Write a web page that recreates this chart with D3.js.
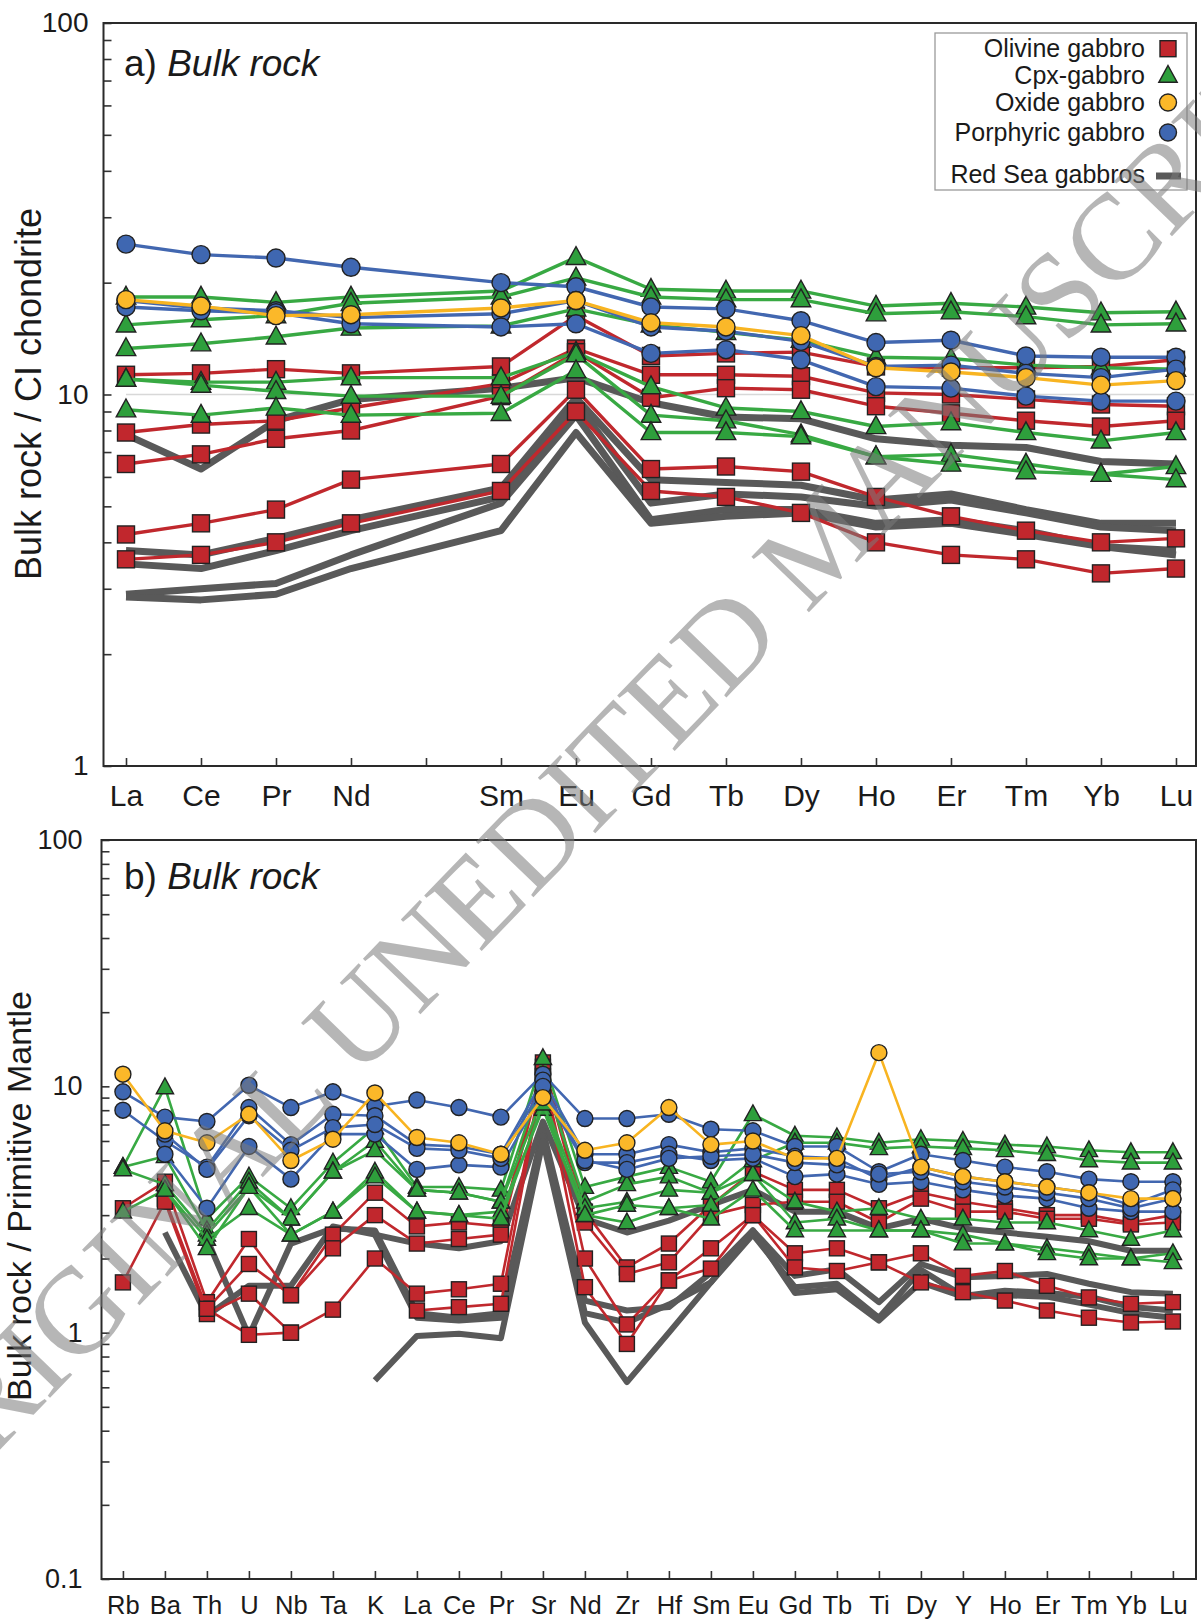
<!DOCTYPE html>
<html>
<head>
<meta charset="utf-8">
<script src="https://cdn.jsdelivr.net/npm/d3@7"></script>
<style>
  body { margin: 0; background: #fff; }
  svg { display: block; }
</style>
</head>
<body>
<svg id="chart" width="1201" height="1624"></svg>
<script>
// ================= DATA =================
// Panel a: REE, chondrite normalised (Pm gap kept as empty tick)
const reeTickLabels = ["La","Ce","Pr","Nd","","Sm","Eu","Gd","Tb","Dy","Ho","Er","Tm","Yb","Lu"];
const reeElements   = ["La","Ce","Pr","Nd","Sm","Eu","Gd","Tb","Dy","Ho","Er","Tm","Yb","Lu"];

const reeOlivine = [
  [11.3, 11.4, 11.7, 11.4, 11.9, 16.3, 12.7, 12.9, 13.0, 11.9, 11.8, 11.8, 11.9, 12.4],
  [7.9, 8.3, 8.5, 9.2, 10.7, 13.3, 11.3, 11.3, 11.2, 10.1, 10.0, 9.7, 9.4, 9.3],
  [6.5, 6.9, 7.6, 8.0, 9.9, 13.0, 9.8, 10.4, 10.3, 9.3, 8.9, 8.5, 8.2, 8.5],
  [4.2, 4.5, 4.9, 5.9, 6.5, 10.3, 6.3, 6.4, 6.2, 5.3, 4.7, 4.3, 4.0, 4.1],
  [3.6, 3.7, 4.0, 4.5, 5.5, 9.0, 5.5, 5.3, 4.8, 4.0, 3.7, 3.6, 3.3, 3.4]
];
const reeCpx = [
  [18.3, 18.3, 17.7, 18.3, 19.0, 23.4, 19.2, 19.0, 19.0, 17.3, 17.6, 17.2, 16.6, 16.7],
  [15.4, 15.9, 16.3, 17.6, 18.3, 20.6, 18.3, 18.0, 18.0, 16.5, 16.7, 16.2, 15.4, 15.5],
  [13.3, 13.7, 14.3, 15.1, 15.3, 17.0, 15.4, 14.7, 14.0, 12.6, 12.5, 12.0, 11.8, 11.7],
  [11.0, 10.8, 10.8, 11.1, 11.1, 13.0, 10.5, 9.2, 9.0, 8.2, 8.4, 7.9, 7.5, 7.9],
  [11.0, 10.6, 10.2, 9.9, 9.9, 12.8, 8.8, 8.5, 7.8, 6.8, 6.9, 6.5, 6.1, 6.4],
  [9.1, 8.8, 9.2, 8.8, 8.9, 11.6, 7.9, 7.9, 7.7, 6.8, 6.5, 6.2, 6.1, 5.9]
];
const reeOxide = [
  [18.0, 17.3, 16.3, 16.4, 17.1, 17.9, 15.6, 15.2, 14.4, 11.8, 11.5, 11.1, 10.6, 10.9]
];
const reePorphyric = [
  [25.4, 23.8, 23.3, 22.0, 20.0, 19.5, 17.2, 17.0, 15.8, 13.8, 14.0, 12.7, 12.6, 12.6],
  [17.9, 17.1, 16.8, 16.1, 16.5, 17.9, 15.2, 14.8, 13.9, 11.9, 12.0, 11.4, 11.1, 11.7],
  [17.2, 16.8, 16.6, 15.5, 15.2, 15.5, 12.9, 13.2, 12.4, 10.5, 10.4, 9.9, 9.6, 9.6]
];
const reeRedSea = [
  [7.8, 6.3, 8.5, 9.7, 10.4, 11.1, 9.5, 8.7, 8.6, 7.6, 7.3, 7.2, 6.6, 6.5],
  [3.8, 3.7, 4.1, 4.6, 5.6, 9.8, 5.9, 5.8, 5.7, 5.2, 5.4, 4.9, 4.5, 4.5],
  [3.5, 3.4, 3.8, 4.3, 5.3, 9.5, 5.1, 5.4, 5.3, 5.0, 5.2, 4.8, 4.4, 4.3],
  [2.9, 3.0, 3.1, 3.7, 5.1, 8.8, 4.6, 4.9, 4.9, 4.5, 4.6, 4.3, 3.9, 3.8],
  [2.85, 2.8, 2.9, 3.4, 4.3, 7.9, 4.5, 4.7, 4.8, 4.4, 4.5, 4.2, 3.9, 3.7]
];

// Panel b: multi-element, primitive mantle normalised
const spiderElements = ["Rb","Ba","Th","U","Nb","Ta","K","La","Ce","Pr","Sr","Nd","Zr","Hf","Sm","Eu","Gd","Tb","Ti","Dy","Y","Ho","Er","Tm","Yb","Lu"];

const pmOlivine = [
  [3.2, 4.1, 1.33, 2.4, 1.42, 2.5, 3.7, 2.7, 2.8, 2.7, 12.5, 3.1, 1.84, 2.3, 3.3, 4.5, 3.8, 3.8, 3.2, 3.7, 3.4, 3.2, 3.0, 3.0, 2.8, 3.0],
  [null, 3.5, 1.25, 1.9, 1.42, 2.2, 3.0, 2.3, 2.4, 2.5, 12.0, 2.8, 1.73, 1.93, 3.0, 3.3, 3.4, 3.4, 2.8, 3.5, 3.1, 3.1, 2.9, 2.9, 2.75, 2.8],
  [1.6, 3.4, 1.19, 1.44, 1.0, 1.24, 2.0, 1.44, 1.5, 1.58, 11.5, 2.0, 1.08, 1.63, 2.2, 3.0, 2.1, 2.2, 1.93, 2.1, 1.7, 1.78, 1.55, 1.39, 1.31, 1.33],
  [null, null, 1.25, 0.98, 1.0, null, null, 1.23, 1.27, 1.31, 11.0, 1.53, 0.90, 1.63, 1.82, 3.0, 1.84, 1.78, 1.93, 1.6, 1.46, 1.35, 1.23, 1.15, 1.10, 1.11]
];
const pmCpx = [
  [4.7, 9.9, 2.9, 4.3, 3.2, 4.9, 6.8, 3.9, 3.9, 3.8, 13.0, 3.9, 4.3, 4.7, 4.1, 7.7, 6.3, 6.2, 5.9, 6.1, 6.0, 5.8, 5.7, 5.5, 5.4, 5.4],
  [4.7, 5.2, 2.6, 4.1, 2.9, 4.5, 6.0, 3.8, 3.7, 3.4, 11.0, 3.4, 4.0, 4.3, 3.7, 5.0, 5.9, 5.9, 5.6, 5.7, 5.6, 5.5, 5.3, 5.0, 4.9, 4.9],
  [4.6, 4.0, 2.5, 3.9, 2.9, 4.5, 5.5, 3.8, 3.7, 3.4, 9.0, 3.2, 3.4, 3.8, 3.7, 4.4, 3.4, 3.1, 3.2, 2.9, 2.9, 2.8, 2.8, 2.6, 2.4, 2.6],
  [3.1, 3.8, 2.4, 3.2, 2.5, 3.1, 4.5, 3.1, 3.0, 3.1, 8.1, 3.0, 3.3, 3.2, 3.3, 4.4, 2.8, 2.9, 2.6, 2.6, 2.5, 2.3, 2.2, 2.1, 2.0, 2.1],
  [null, 3.8, 2.2, 3.9, 2.5, 3.1, 4.3, 3.1, 3.0, 2.9, 8.5, 3.0, 2.8, 3.2, 2.9, 3.8, 2.6, 2.6, 2.6, 2.6, 2.3, 2.3, 2.1, 2.0, 2.0, 1.93]
];
const pmOxide = [
  [11.2, 6.6, 5.9, 7.7, 5.0, 6.1, 9.4, 6.2, 5.9, 5.3, 9.0, 5.5, 5.9, 8.2, 5.8, 6.0, 5.1, 5.1, 13.7, 4.7, 4.3, 4.1, 3.9, 3.7, 3.5, 3.5]
];
const pmPorphyric = [
  [9.5, 7.5, 7.2, 10.1, 8.2, 9.5, 8.3, 8.8, 8.2, 7.5, 11.2, 7.4, 7.4, 7.7, 6.7, 6.6, 5.7, 5.7, 4.5, 5.3, 5.0, 4.7, 4.5, 4.2, 4.1, 4.1],
  [8.0, 6.0, 4.7, 8.2, 5.8, 7.7, 7.6, 5.8, 5.7, 5.3, 10.6, 5.3, 5.3, 5.8, 5.4, 5.6, 5.2, 5.1, 4.2, 4.7, 4.3, 4.1, 3.9, 3.7, 3.3, 3.8],
  [null, 5.3, 3.2, 5.7, 4.2, 6.4, 6.4, 4.6, 4.8, 4.7, 9.5, 4.9, 4.9, 5.3, 5.0, 5.1, 4.3, 4.4, 4.0, 4.1, 3.8, 3.6, 3.5, 3.2, 3.1, 3.1],
  [null, 6.4, 4.6, 7.6, 5.5, 6.8, 7.0, 5.6, 5.5, 5.1, 10.0, 5.0, 4.6, 5.1, 5.2, 5.3, 4.9, 4.8, 4.4, 4.5, 4.1, 3.9, 3.7, 3.5, 3.2, 3.5]
];
const pmRedSea = [
  [null, 2.55, 1.17, 1.55, 1.55, 2.7, 2.5, 2.3, 2.2, 2.35, 7.2, 2.9, 2.55, 2.85, 3.3, 3.8, 3.1, 3.1, 2.65, 2.9, 2.65, 2.55, 2.45, 2.35, 2.15, 2.15],
  [null, null, 2.4, 0.97, 2.3, 2.65, 2.6, 1.2, 1.15, 1.2, 6.6, 1.35, 1.23, 1.27, 1.75, 2.6, 1.70, 1.81, 1.33, 1.9, 1.68, 1.7, 1.73, 1.58, 1.46, 1.44],
  [null, null, null, null, null, null, 2.5, 1.15, 1.12, 1.15, 6.3, 1.2, 1.1, 1.3, 1.6, 2.5, 1.53, 1.58, 1.15, 1.8, 1.41, 1.48, 1.45, 1.4, 1.27, 1.23],
  [null, null, null, null, null, null, 0.64, 0.97, 0.99, 0.95, 6.0, 1.1, 0.63, 1.0, 1.6, 2.6, 1.45, 1.5, 1.12, 1.6, 1.4, 1.42, 1.4, 1.3, 1.2, 1.15]
];

const legendLabels = ["Olivine gabbro", "Cpx-gabbro", "Oxide gabbro", "Porphyric gabbro", "Red Sea gabbros"];
const yMajorA = [1, 10, 100];
const yMajorB = [0.1, 1, 10, 100];

// ================= STYLES =================
const FONT = "'Liberation Sans', Arial, Helvetica, sans-serif";
const ST = {
  olivine:   { line: "#c0282d", fill: "#c1272d", shape: "square" },
  cpx:       { line: "#38a943", fill: "#2e9f3c", shape: "triangle" },
  oxide:     { line: "#f8b421", fill: "#fbb829", shape: "circle" },
  porphyric: { line: "#4267b0", fill: "#3f67b1", shape: "circle" },
  redsea:    { line: "#595959" }
};

const svg = d3.select("#chart");

function drawMarkers(g, pts, shape, fill, s) {
  const stroke = "#222", sw = 1.4;
  if (shape === "square") {
    g.selectAll(null).data(pts).join("rect")
      .attr("x", d => d.x - s / 2).attr("y", d => d.y - s / 2)
      .attr("width", s).attr("height", s)
      .attr("fill", fill).attr("stroke", stroke).attr("stroke-width", sw);
  } else if (shape === "circle") {
    g.selectAll(null).data(pts).join("circle")
      .attr("cx", d => d.x).attr("cy", d => d.y).attr("r", s / 2 + 0.5)
      .attr("fill", fill).attr("stroke", stroke).attr("stroke-width", sw);
  } else {
    const w = s * 1.15, h = s * 1.05;
    g.selectAll(null).data(pts).join("path")
      .attr("d", d => `M${d.x},${d.y - h * 0.6}L${d.x + w / 2},${d.y + h * 0.4}L${d.x - w / 2},${d.y + h * 0.4}Z`)
      .attr("fill", fill).attr("stroke", stroke).attr("stroke-width", sw).attr("stroke-linejoin", "miter");
  }
}

function logTicks(lo, hi) {
  const t = [];
  for (let e = Math.round(Math.log10(lo)); e < Math.round(Math.log10(hi)); e++) {
    for (let k = 1; k < 10; k++) t.push(+(k * Math.pow(10, e)).toPrecision(3));
  }
  t.push(hi);
  return t;
}

function drawPanel(cfg) {
  const g = svg.append("g");
  const x = d3.scaleLinear().domain(cfg.xDomain).range(cfg.xRange);
  const y = d3.scaleLog().domain(cfg.yDomain).range(cfg.yRange);
  const [x0, x1] = cfg.xRange, [yb, yt] = cfg.yRange;

  if (cfg.grid10) {
    g.append("line").attr("x1", x(0)).attr("x2", x1 - 2).attr("y1", y(10)).attr("y2", y(10))
      .attr("stroke", "#d8d8d8").attr("stroke-width", 1.6);
  }

  // axes
  const yAx = d3.axisLeft(y).tickValues(logTicks(cfg.yDomain[0], cfg.yDomain[1]))
    .tickSizeInner(-8).tickSizeOuter(0).tickPadding(cfg.yPad)
    .tickFormat(v => cfg.yMajor.some(m => Math.abs(m - v) < 1e-9) ? String(v) : "");
  const ya = g.append("g").attr("transform", `translate(${x0},0)`).call(yAx);
  ya.select(".domain").remove();
  ya.selectAll("line").attr("stroke", "#333").attr("stroke-width", 1.6);
  ya.selectAll("text").attr("font-family", FONT).attr("font-size", cfg.yFont).attr("fill", "#1a1a1a");

  const xAx = d3.axisBottom(x).tickValues(d3.range(cfg.tickLabels.length))
    .tickSizeInner(-8).tickSizeOuter(0).tickPadding(cfg.xPad)
    .tickFormat(i => cfg.tickLabels[i]);
  const xa = g.append("g").attr("transform", `translate(0,${yb})`).call(xAx);
  xa.select(".domain").remove();
  xa.selectAll("line").attr("stroke", "#333").attr("stroke-width", 1.6);
  xa.selectAll("text").attr("font-family", FONT).attr("font-size", cfg.xFont).attr("fill", "#1a1a1a");

  const line = d3.line().defined(d => d.v != null).x(d => d.x).y(d => d.y);
  const toPts = arr => arr.map((v, k) => ({ v, x: x(cfg.pos[k]), y: v == null ? 0 : y(v) }));

  // Red Sea gabbros (thick grey lines, no markers)
  cfg.redsea.forEach(arr => {
    g.append("path").attr("d", line(toPts(arr))).attr("fill", "none")
      .attr("stroke", ST.redsea.line).attr("stroke-width", cfg.grayW)
      .attr("stroke-linejoin", "round").attr("stroke-linecap", "butt");
  });

  [["olivine", cfg.olivine], ["cpx", cfg.cpx], ["porphyric", cfg.porphyric], ["oxide", cfg.oxide]]
    .forEach(([key, group]) => {
      group.forEach(arr => {
        const pts = toPts(arr);
        const sg = g.append("g");
        sg.append("path").attr("d", line(pts)).attr("fill", "none")
          .attr("stroke", ST[key].line).attr("stroke-width", cfg.lw).attr("stroke-linejoin", "round");
        drawMarkers(sg, pts.filter(p => p.v != null), ST[key].shape, ST[key].fill, cfg.mk);
      });
    });

  // frame
  g.append("rect").attr("x", x0).attr("y", yt).attr("width", x1 - x0).attr("height", yb - yt)
    .attr("fill", "none").attr("stroke", "#2a2a2a").attr("stroke-width", 2);

  // panel title
  const t = g.append("text").attr("x", cfg.titleX).attr("y", cfg.titleY)
    .attr("font-family", FONT).attr("font-size", 37).attr("fill", "#1a1a1a");
  t.append("tspan").text(cfg.titleLetter + " ");
  t.append("tspan").attr("font-style", "italic").text("Bulk rock");

  // y label
  g.append("text").attr("transform", `translate(${cfg.ylabX},${cfg.ylabY}) rotate(-90)`)
    .attr("text-anchor", "middle").attr("font-family", FONT).attr("font-size", cfg.ylabFont)
    .attr("fill", "#1a1a1a").text(cfg.ylabel);
  return { x, y };
}

// positions of REE (skip Pm at index 4)
const reePos = reeElements.map(e => reeTickLabels.indexOf(e));
const spPos = spiderElements.map((e, i) => i);

drawPanel({
  tickLabels: reeTickLabels, pos: reePos,
  xDomain: [-0.3, 14.267], xRange: [103.5, 1196],
  yDomain: [1, 100], yRange: [766, 23], yMajor: yMajorA,
  yPad: 15, yFont: 28, xPad: 19, xFont: 30,
  olivine: reeOlivine, cpx: reeCpx, oxide: reeOxide, porphyric: reePorphyric, redsea: reeRedSea,
  lw: 3.4, grayW: 7, mk: 17, grid10: true,
  titleLetter: "a)", titleX: 124, titleY: 76,
  ylabel: "Bulk rock / CI chondrite", ylabX: 41, ylabY: 394, ylabFont: 36
});

drawPanel({
  tickLabels: spiderElements, pos: spPos,
  xDomain: [-0.51, 25.55], xRange: [101.5, 1196],
  yDomain: [0.1, 100], yRange: [1579, 840], yMajor: yMajorB,
  yPad: 19, yFont: 27, xPad: 17, xFont: 25.5,
  olivine: pmOlivine, cpx: pmCpx, oxide: pmOxide, porphyric: pmPorphyric, redsea: pmRedSea,
  lw: 2.6, grayW: 6, mk: 15, grid10: false,
  titleLetter: "b)", titleX: 124, titleY: 889,
  ylabel: "Bulk rock / Primitive Mantle", ylabX: 31, ylabY: 1196, ylabFont: 34
});

// ================= LEGEND =================
const lg = svg.append("g");
lg.append("rect").attr("x", 935).attr("y", 33).attr("width", 252).attr("height", 157)
  .attr("fill", "#fff").attr("stroke", "#9a9a9a").attr("stroke-width", 1.3);
const legendKeys = ["olivine", "cpx", "oxide", "porphyric", "redsea"];
const rowY = [48.7, 75.6, 102.5, 132.5, 174];
legendLabels.forEach((lab, i) => {
  lg.append("text").attr("x", 1145).attr("y", rowY[i]).attr("dy", "0.35em")
    .attr("text-anchor", "end").attr("font-family", FONT).attr("font-size", 25)
    .attr("fill", "#1a1a1a").text(lab);
  const key = legendKeys[i];
  if (key === "redsea") {
    lg.append("line").attr("x1", 1156).attr("x2", 1181).attr("y1", rowY[i] + 2).attr("y2", rowY[i] + 2)
      .attr("stroke", ST.redsea.line).attr("stroke-width", 7);
  } else {
    drawMarkers(lg, [{ x: 1168, y: rowY[i] }], ST[key].shape, ST[key].fill, 16);
  }
});

// ================= WATERMARK =================
svg.append("text")
  .attr("transform", "translate(612,758) rotate(-46)")
  .attr("text-anchor", "middle").attr("dy", "0.33em")
  .attr("font-family", "'Liberation Serif', 'Times New Roman', serif")
  .attr("font-size", 122).attr("fill", "#7a7a7a").attr("fill-opacity", 0.55)
  .text("ORIGINAL UNEDITED MANUSCRIPT");
</script>
</body>
</html>
